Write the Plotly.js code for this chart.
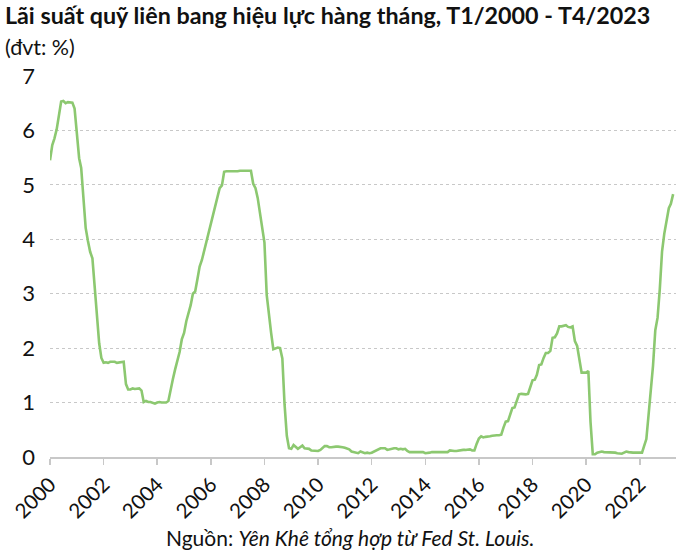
<!DOCTYPE html>
<html><head><meta charset="utf-8">
<script src="https://cdn.plot.ly/plotly-3.0.1.min.js"></script>
<style>body{margin:0;background:#fff}#c{width:700px;height:555px}</style>
</head><body><div id="c"></div>
<script>
const startYear = 2000;
const rate2000 = [5.45,5.73,5.85,6.02,6.27,6.53,6.54,6.50,6.52,6.51,6.51,6.40];
const rate2001 = [5.98,5.49,5.31,4.80,4.21,3.97,3.77,3.65,3.07,2.49,2.09,1.82];
const rate2002 = [1.73,1.74,1.73,1.75,1.75,1.75,1.73,1.74,1.75,1.75,1.34,1.24];
const rate2003 = [1.24,1.26,1.25,1.26,1.26,1.22,1.01,1.03,1.01,1.01,1.00,0.98];
const rate2004 = [1.00,1.01,1.00,1.00,1.00,1.03,1.26,1.43,1.61,1.76,1.93,2.16];
const rate2005 = [2.28,2.50,2.63,2.79,3.00,3.04,3.26,3.50,3.62,3.78,4.00,4.16];
const rate2006 = [4.29,4.49,4.59,4.79,4.94,4.99,5.24,5.25,5.25,5.25,5.25,5.24];
const rate2007 = [5.25,5.26,5.26,5.25,5.25,5.25,5.26,5.02,4.94,4.76,4.49,4.24];
const rate2008 = [3.94,2.98,2.61,2.28,1.98,2.00,2.01,2.00,1.81,0.97,0.39,0.16];
const rate2009 = [0.15,0.22,0.18,0.15,0.18,0.21,0.16,0.16,0.15,0.12,0.12,0.12];
const rate2010 = [0.11,0.13,0.16,0.20,0.20,0.18,0.18,0.19,0.19,0.19,0.19,0.18];
const rate2011 = [0.17,0.16,0.14,0.10,0.09,0.09,0.07,0.10,0.08,0.07,0.08,0.07];
const rate2012 = [0.08,0.10,0.13,0.14,0.16,0.16,0.16,0.13,0.14,0.16,0.16,0.16];
const rate2013 = [0.14,0.15,0.14,0.15,0.11,0.09,0.09,0.08,0.08,0.09,0.08,0.09];
const rate2014 = [0.07,0.07,0.08,0.09,0.09,0.10,0.09,0.09,0.09,0.09,0.09,0.12];
const rate2015 = [0.11,0.11,0.11,0.12,0.12,0.13,0.13,0.14,0.14,0.12,0.12,0.24];
const rate2016 = [0.34,0.38,0.36,0.37,0.37,0.38,0.39,0.40,0.40,0.40,0.41,0.54];
const rate2017 = [0.65,0.66,0.79,0.90,0.91,1.04,1.15,1.16,1.15,1.15,1.16,1.30];
const rate2018 = [1.41,1.42,1.51,1.69,1.70,1.82,1.91,1.91,1.95,2.19,2.20,2.27];
const rate2019 = [2.40,2.40,2.41,2.42,2.39,2.38,2.40,2.13,2.04,1.83,1.55,1.55];
const rate2020 = [1.55,1.58,0.65,0.05,0.05,0.08,0.09,0.10,0.09,0.09,0.09,0.09];
const rate2021 = [0.09,0.08,0.07,0.07,0.06,0.08,0.10,0.09,0.08,0.08,0.08,0.08];
const rate2022 = [0.08,0.08,0.20,0.33,0.77,1.21,1.68,2.33,2.56,3.08,3.78,4.10];
const rate2023 = [4.33,4.57,4.65,4.83];
const tickYears = ['2000','2002','2004','2006','2008','2010','2012','2014','2016','2018','2020','2022'];

const allYears = [rate2000,rate2001,rate2002,rate2003,rate2004,rate2005,rate2006,rate2007,rate2008,rate2009,rate2010,rate2011,rate2012,rate2013,rate2014,rate2015,rate2016,rate2017,rate2018,rate2019,rate2020,rate2021,rate2022,rate2023];
const x = [], y = [];
allYears.forEach((arr, i) => {
  arr.forEach((v, m) => {
    x.push((startYear + i) + '-' + String(m + 1).padStart(2, '0') + '-01');
    y.push(v);
  });
});

const font = 'Lato, "Open Sans", sans-serif';
Plotly.newPlot('c', [{
  x: x, y: y, type: 'scatter', mode: 'lines',
  line: {color: '#8cc870', width: 2.6},
  hoverinfo: 'skip'
}], {
  width: 700, height: 555,
  margin: {l: 50, r: 24, t: 76, b: 98},
  paper_bgcolor: '#fff', plot_bgcolor: '#fff',
  font: {family: font, color: '#111'},
  showlegend: false,
  title: {text: '<b>Lãi suất quỹ liên bang hiệu lực hàng tháng, T1/2000 - T4/2023</b>',
    x: 0.007, xanchor: 'left', y: 0.986, yanchor: 'top', font: {size: 23.3, family: font, color: '#111'}},
  xaxis: {
    type: 'date', range: ['2000-01-01', '2023-05-10'],
    tickvals: tickYears.map(t => t + '-01-01'), ticktext: tickYears,
    tickangle: -45, tickfont: {size: 20.5, family: font, color: '#111'},
    showgrid: false, zeroline: false,
    showline: true, linecolor: '#c8c8c8', linewidth: 1.5,
    ticks: 'outside', ticklen: 6, tickcolor: '#c8c8c8', tickwidth: 1.5
  },
  yaxis: {
    range: [0, 7], dtick: 1, tick0: 0,
    tickfont: {size: 22, family: font, color: '#111'},
    showgrid: true, gridcolor: '#c8c8c8', griddash: 'dot', gridwidth: 1,
    zeroline: false, showline: false, ticks: '', ticklabelstandoff: 14
  },
  annotations: [
    {text: '(đvt: %)', xref: 'paper', yref: 'paper', x: 0, y: 1, xanchor: 'left', yanchor: 'bottom',
     xshift: -47, yshift: 14, showarrow: false, font: {size: 21.5, family: font, color: '#111'}},
    {text: 'Nguồn: <i>Yên Khê tổng hợp từ Fed St. Louis.</i>', xref: 'paper', yref: 'paper',
     x: 0.479, y: 0, xanchor: 'center', yanchor: 'top', yshift: -66, showarrow: false,
     font: {size: 21, family: font, color: '#111'}}
  ]
}, {displayModeBar: false, staticPlot: true});
</script></body></html>
